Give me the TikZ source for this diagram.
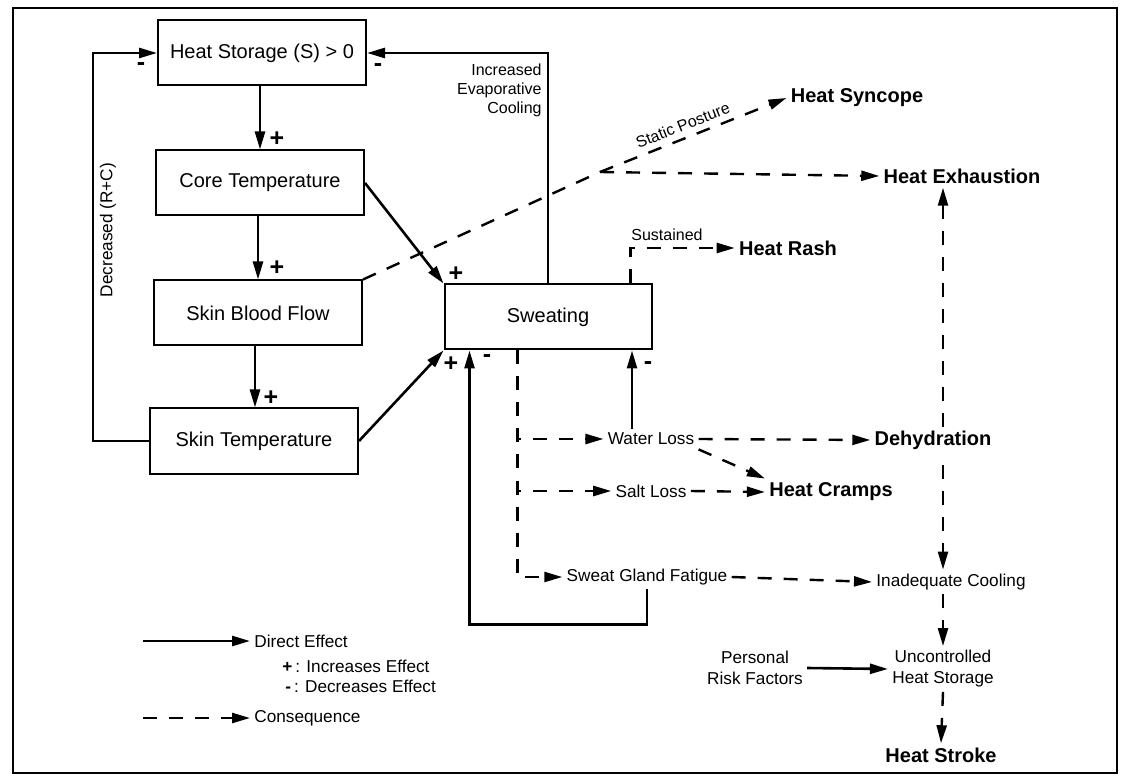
\documentclass[tikz,border=0pt]{standalone}
\usepackage{fontspec}
\setmainfont{Liberation Sans}
\usetikzlibrary{positioning,arrows.meta,calc}

\begin{document}
\begin{tikzpicture}[
  x=0.5pt, y=-0.5pt,
  font=\fontsize{8.6}{10.5}\selectfont,
  >={Triangle[length=9pt,width=5pt]},
  box/.style={draw, line width=1pt, minimum width=104pt, minimum height=32.5pt,
              inner sep=2pt, font=\fontsize{10}{12}\selectfont},
  direct/.style={line width=1.3pt},
  conseq/.style={line width=1.2pt, dash pattern=on 7pt off 6pt},
  outcome/.style={font=\bfseries\fontsize{10}{12}\selectfont, inner sep=2pt},
  item/.style={inner sep=2pt},
  lbl/.style={font=\fontsize{8}{9.5}\selectfont, inner sep=1pt},
  sgn/.style={font=\bfseries\fontsize{12.5}{12}\selectfont, inner sep=0pt},
]
\useasboundingbox (0,0) rectangle (1127,779);
\draw[line width=1pt] (13,8) rectangle (1117,773);

% ---- body chain ----
\node[box] (hs)  at (262,53)  {Heat Storage (S) > 0};
\node[box] (ct)  at (260,183) {Core Temperature};
\node[box] (sbf) at (258,313) {Skin Blood Flow};
\node[box] (st)  at (254,441) {Skin Temperature};
\node[box, minimum width=103.5pt] (sw) at (548,317) {Sweating};

\draw[direct,->] (hs.south -| 260,0) -- (ct.north -| 260,0);
\draw[direct,->] (ct.south -| 258,0) -- (sbf.north -| 258,0);
\draw[direct,->] (sbf.south -| 255,0) -- (st.north -| 255,0);
\node[sgn] at (277,139) {+};
\node[sgn] at (277,268) {+};
\node[sgn] at (271,398) {+};

% ---- feedback loops ----
\draw[direct,->] (st.west) -- ++(-56,0) |- (hs.west);
\node[lbl, rotate=90, font=\fontsize{8.6}{10}\selectfont] at (108,230) {Decreased (R+C)};
\node[sgn] at (141,67) {-};

\draw[direct,->] (sw.north) |- (hs.east);
\node[sgn] at (378,68) {-};
\node[lbl, align=right, anchor=north east] at (544,62) {Increased\\Evaporative\\Cooling};

\draw[direct,->] (ct.east) -- (sw.north west);
\draw[direct,->] (st.east) -- (sw.south west);
\node[sgn] at (456,274) {+};
\node[sgn] at (451,364) {+};

% ---- heat syncope / exhaustion ----
\node[outcome] (syncope) at (857,98)  {Heat Syncope};
\node[outcome] (exhaust) at (962,176) {Heat Exhaustion};
\coordinate (jn) at (600,172);
\draw[conseq] (sbf.north east) -- (jn);
\draw[conseq,->] (jn) -- node[lbl, sloped, above=2pt, pos=0.47] {Static Posture} (syncope.west);
\draw[conseq,->] (jn) -- (exhaust.west);

% ---- heat rash ----
\node[outcome] (rash) at (788,248) {Heat Rash};
\coordinate (rs) at ($(sw.north east)+(-22,0)$);
\draw[conseq,->] (rs) -- (rs |- rash.west) -- (rash.west);
\node[lbl, anchor=south west] at (629,243) {Sustained};

% ---- right column ----
\node[item] (inad) at (951,582) {Inadequate Cooling};
\coordinate (vx) at (943,0);
\draw[conseq,<->] (vx |- exhaust.south) -- (vx |- inad.north);
\node[outcome, fill=white] (dehyd) at (933,440) {Dehydration};
\node[outcome] (cramps) at (831,492) {Heat Cramps};
\node[item, align=center] (unctl) at (943,669) {Uncontrolled\\Heat Storage};
\node[item, align=center] (risk) at (755,668) {Personal\\Risk Factors};
\node[outcome] (stroke) at (941,755) {Heat Stroke};
\draw[conseq,->] (vx |- inad.south) -- (unctl.north);
\draw[direct,->] (risk.east) -- (unctl.west);
\draw[conseq,->] (unctl.south) -- (stroke.north);

% ---- sweat losses ----
\node[item] (water)   at (651,439) {Water Loss};
\node[item] (salt)    at (651,491) {Salt Loss};
\node[item] (fatigue) at (647,577) {Sweat Gland Fatigue};
\coordinate (tr) at ($(sw.south west)+(74,0)$);
\draw[conseq,->] (tr) |- (water.west);
\draw[conseq,->] (tr) |- (salt.west);
\draw[conseq,->] (tr) |- (fatigue.west);

\coordinate (wu) at ($(water.north)+(-19,0)$);
\draw[direct,->] (wu) -- (wu |- sw.south);
\node[sgn] at (648,366) {-};

\draw[conseq,->] (water.east) -- (dehyd.west);
\draw[conseq,->] (water.south east) -- (cramps.north west);
\draw[conseq,->] (salt.east) -- (cramps.west);
\draw[conseq,->] (fatigue.east) -- (inad.west);

\draw[direct,->] (fatigue.south) -- ++(0,35) -| ($(sw.south west)+(26,0)$);
\node[sgn] at (487,359) {-};

% ---- legend ----
\node[item, anchor=west] (lgdir) at (250,641) {Direct Effect};
\node[item, anchor=west] (lginc) at (278,666) {\textbf{+}\,: Increases Effect};
\node[item, anchor=west] (lgdec) at (281,686) {\textbf{-}\,: Decreases Effect};
\node[item, anchor=west] (lgcon) at (250,718) {Consequence};
\coordinate (lga) at (143,641);
\coordinate (lgb) at (143,718);
\draw[direct,->] (lga) -- (lgdir.west);
\draw[conseq,->] (lgb) -- (lgcon.west);
\end{tikzpicture}
\end{document}
